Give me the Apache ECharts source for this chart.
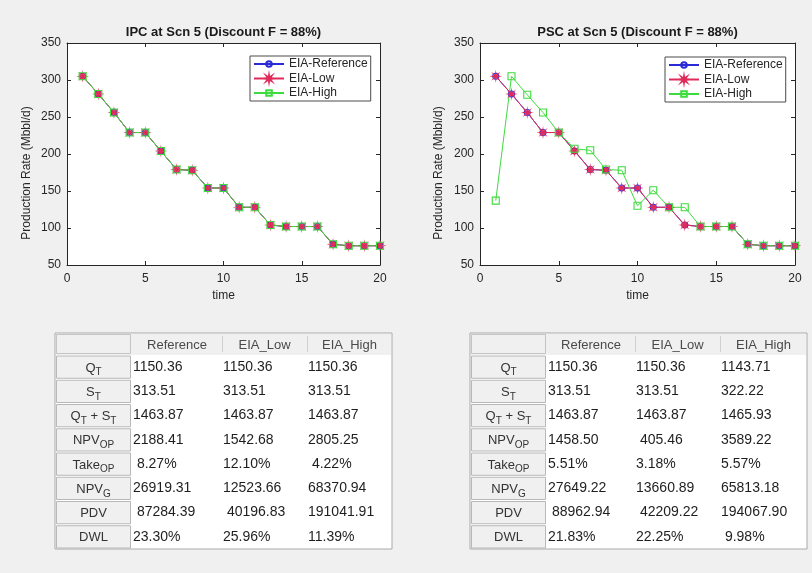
<!DOCTYPE html>
<html><head><meta charset="utf-8">
<script src="https://cdn.jsdelivr.net/npm/echarts@6/dist/echarts.min.js"></script>
<style>html,body{margin:0;padding:0;background:#f0f0f0}#c{width:812px;height:573px}</style>
</head><body><div id="c"></div>
<script>
// ---------- data ----------
const timeSteps = [1,2,3,4,5,6,7,8,9,10,11,12,13,14,15,16,17,18,19,20];
const ipcReference = [305,281,256,229,229,204,179,178,154,154,128,128,104,102,102,102,78,76,76,76];
const ipcLow       = [305,281,256,229,229,204,179,178,154,154,128,128,104,102,102,102,78,76,76,76];
const ipcHigh      = [305,281,256,229,229,204,179,178,154,154,128,128,104,102,102,102,78,76,76,76];
const pscReference = [305,281,256,229,229,204,179,178,154,154,128,128,104,102,102,102,78,76,76,76];
const pscLow       = [305,281,256,229,229,204,179,178,154,154,128,128,104,102,102,102,78,76,76,76];
const pscHigh      = [137,305,280,256,229,207,205,179,178,130,151,128,128,102,102,102,78,76,76,76];
const seriesNames = ['EIA-Reference','EIA-Low','EIA-High'];
const chartTitles = ['IPC at Scn 5 (Discount F = 88%)','PSC at Scn 5 (Discount F = 88%)'];
const yAxisTitle = 'Production Rate (Mbbl/d)';
const xAxisTitle = 'time';
const xTicks = [0, 20, 5];
const yTicks = [50, 350, 50];

const tableColumns = ['Reference','EIA_Low','EIA_High'];
const tableRowLabels = ['{m|Q}{s|T}','{m|S}{s|T}','{m|Q}{s|T}{m| + S}{s|T}','{m|NPV}{s|OP}','{m|Take}{s|OP}','{m|NPV}{s|G}','{m|PDV}','{m|DWL}'];
const ipcTableReference = ['1150.36','313.51','1463.87','2188.41',' 8.27%','26919.31',' 87284.39','23.30%'];
const ipcTableLow       = ['1150.36','313.51','1463.87','1542.68','12.10%','12523.66',' 40196.83','25.96%'];
const ipcTableHigh      = ['1150.36','313.51','1463.87','2805.25',' 4.22%','68370.94','191041.91','11.39%'];
const pscTableReference = ['1150.36','313.51','1463.87','1458.50','5.51%','27649.22',' 88962.94','21.83%'];
const pscTableLow       = ['1150.36','313.51','1463.87',' 405.46','3.18%','13660.89',' 42209.22','22.25%'];
const pscTableHigh      = ['1143.71','322.22','1465.93','3589.22','5.57%','65813.18','194067.90',' 9.98%'];

// ---------- styles ----------
const colors = ['#2a2ad6','#e02a5a','#3ddc3d'];
const axisColor = '#262626';
function starPath(){
  let p = [];
  for (let k = 0; k < 16; k++) {
    const a = k * Math.PI / 8 - Math.PI/2;
    const r = (k % 2 === 0) ? 10 : 3.2;
    p.push((k===0?'M':'L') + (r*Math.cos(a)).toFixed(2) + ',' + (r*Math.sin(a)).toFixed(2));
  }
  return 'path://' + p.join(' ') + ' Z';
}
const symbols = ['circle', starPath(), 'rect'];
const symbolSizes = [6, 6.5, 7];
const fills = ['rgba(0,0,0,0)', colors[1], 'rgba(0,0,0,0)'];

const grids = [
  {left:67, top:43, width:313, height:222},
  {left:480, top:43, width:315, height:222}
];

const chartData = [[ipcReference, ipcLow, ipcHigh],[pscReference, pscLow, pscHigh]];

const option = {
  animation: false,
  backgroundColor: '#f0f0f0',
  textStyle: {fontFamily: 'Liberation Sans, Arial, sans-serif'},
  title: chartTitles.map((t, i) => ({
    text: t, left: grids[i].left + grids[i].width/2, top: 26, textAlign: 'center',
    padding: 0,
    textStyle: {fontSize: 13, fontWeight: 'bold', color: '#1a1a1a', fontFamily: 'Liberation Sans, Arial, sans-serif'}
  })),
  grid: grids.map(g => Object.assign({show:true, backgroundColor:'#ffffff', borderWidth:0}, g)),
  legend: [
    {left:250, top:56},
    {left:665, top:57}
  ].map(p => Object.assign({
    data: seriesNames, orient:'vertical', backgroundColor:'#ffffff', borderColor:'#4a4a4a', borderWidth:1,
    padding:[2,3,2,3], itemGap:2.5, itemWidth:30, itemHeight:7, selectedMode:false,
    textStyle:{fontSize:12, color:'#262626', fontFamily:'Liberation Sans, Arial, sans-serif', padding:[1,0,0,0]}
  }, p)),
  xAxis: [],
  yAxis: [],
  series: [],
  graphic: []
};

grids.forEach((g, gi) => {
  const common = {gridIndex: gi, type:'value', splitLine:{show:false},
    axisLine:{show:true, onZero:false, lineStyle:{color:axisColor, width:1}},
    axisTick:{show:true, inside:true, length:4, lineStyle:{color:axisColor}}};
  option.xAxis.push(Object.assign({}, common, {position:'bottom', min:xTicks[0], max:xTicks[1], interval:xTicks[2],
    axisLabel:{color:axisColor, fontSize:12, margin:8},
    name: xAxisTitle, nameLocation:'middle', nameGap:25, nameTextStyle:{color:axisColor, fontSize:12}}));
  option.xAxis.push(Object.assign({}, common, {position:'top', min:xTicks[0], max:xTicks[1], interval:xTicks[2], axisLabel:{show:false}}));
  option.yAxis.push(Object.assign({}, common, {position:'left', min:yTicks[0], max:yTicks[1], interval:yTicks[2],
    axisLabel:{color:axisColor, fontSize:12, margin:6}}));
  option.yAxis.push(Object.assign({}, common, {position:'right', min:yTicks[0], max:yTicks[1], interval:yTicks[2], axisLabel:{show:false}}));
  chartData[gi].forEach((vals, si) => {
    option.series.push({
      type:'line', name: seriesNames[si], xAxisIndex: gi*2, yAxisIndex: gi*2,
      data: timeSteps.map((t, k) => [t, vals[k]]),
      symbol: symbols[si], symbolSize: symbolSizes[si], showSymbol:true,
      lineStyle:{color:colors[si], width:1},
      itemStyle:{color: fills[si], borderColor: colors[si], borderWidth:1.1},
      emphasis:{disabled:true}
    });
  });
  option.graphic.push({type:'text', x: gi===0 ? 27 : 439, y: 173, rotation: Math.PI/2,
    style:{text: yAxisTitle, fontSize:12, fill:axisColor, align:'center', verticalAlign:'middle', fontFamily:'Liberation Sans, Arial, sans-serif'}});
});

// ---------- tables ----------
function buildTable(x0, y0, labelW, colW, cols){
  const headerH = 22, rowH = 24.25;
  const totalW = labelW + colW.reduce((a,b)=>a+b,0);
  const totalH = headerH + rowH * tableRowLabels.length;
  const els = [];
  els.push({type:'rect', shape:{x:x0, y:y0, width:totalW, height:totalH}, style:{fill:'#ffffff', stroke:'#a9a9a9', lineWidth:1}});
  els.push({type:'rect', shape:{x:x0+1, y:y0+1, width:totalW-2, height:headerH-1}, style:{fill:'#f0f0f0'}});
  els.push({type:'rect', shape:{x:x0+1.5, y:y0+1.5, width:labelW-3, height:headerH-3}, style:{fill:'#f0f0f0', stroke:'#c4c4c4', lineWidth:1}});
  let cx = x0 + labelW;
  colW.forEach((w, ci) => {
    if (ci > 0) els.push({type:'line', shape:{x1:cx+0.5, y1:y0+3, x2:cx+0.5, y2:y0+headerH-3}, style:{stroke:'#cfcfcf', lineWidth:1}});
    els.push({type:'text', x: cx + w/2, y: y0 + headerH/2 + 1,
      style:{text: tableColumns[ci], fontSize:13, fill:'#4a4a4a', align:'center', verticalAlign:'middle', fontFamily:'Liberation Sans, Arial, sans-serif'}});
    cols[ci].forEach((v, ri) => {
      els.push({type:'text', x: cx + 1, y: y0 + headerH + rowH*ri + rowH/2,
        style:{text: v, fontSize:14, fill:'#1e1e1e', align:'left', verticalAlign:'middle', fontFamily:'Liberation Sans, Arial, sans-serif'}});
    });
    cx += w;
  });
  tableRowLabels.forEach((lab, ri) => {
    const ry = y0 + headerH + rowH*ri;
    els.push({type:'rect', shape:{x:x0+1.5, y:ry+1, width:labelW-3, height:rowH-2}, style:{fill:'#f0f0f0', stroke:'#b8b8b8', lineWidth:1}});
    els.push({type:'text', x: x0 + labelW/2, y: ry + rowH/2 + 1,
      style:{text: lab, align:'center', verticalAlign:'middle', fill:'#333333',
        rich:{ m:{fontSize:13, fill:'#333333', fontFamily:'Liberation Sans, Arial, sans-serif'},
               s:{fontSize:10, fill:'#333333', padding:[9,0,0,0], fontFamily:'Liberation Sans, Arial, sans-serif'} }}});
  });
  return els;
}
option.graphic = option.graphic.concat(
  buildTable(55, 333, 77, [90,85,85], [ipcTableReference, ipcTableLow, ipcTableHigh]),
  buildTable(470, 333, 77, [88,85,87], [pscTableReference, pscTableLow, pscTableHigh])
);

const chart = echarts.init(document.getElementById('c'), null, {renderer:'canvas'});
chart.setOption(option);
</script>
</body></html>
